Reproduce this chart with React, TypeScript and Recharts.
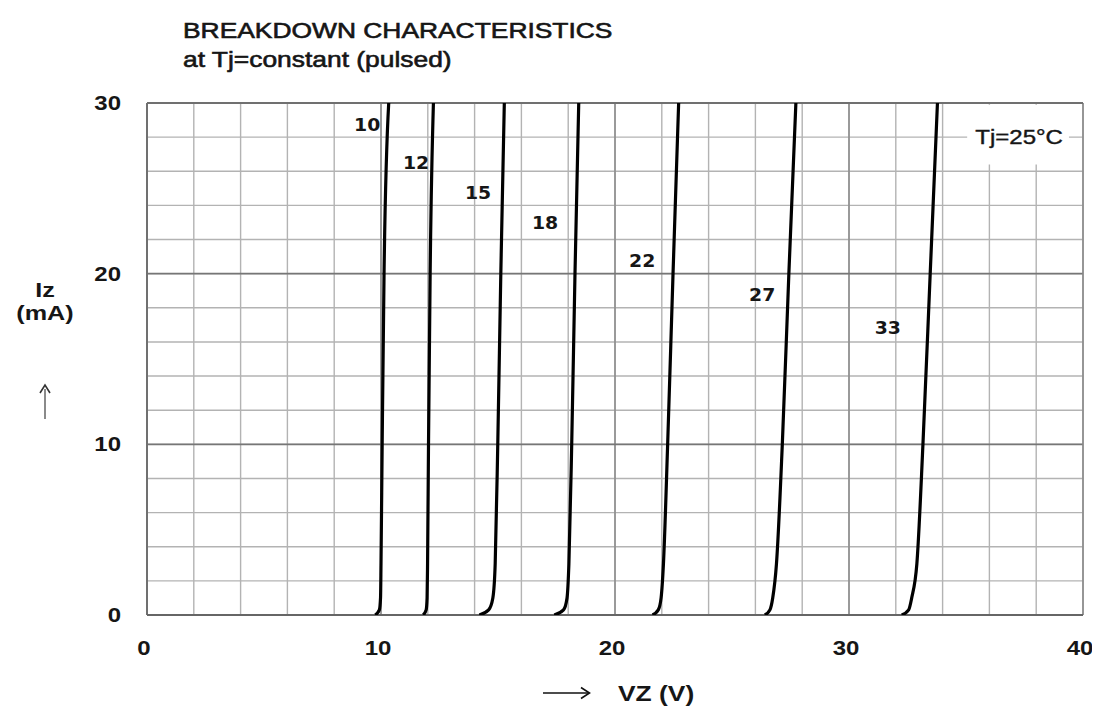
import React from 'react';
import {
  LineChart,
  Line,
  XAxis,
  YAxis,
  CartesianGrid,
  ReferenceLine,
  ReferenceArea,
  ReferenceDot,
} from 'recharts';

// ---- data ----
const currentSteps = [0, 0.3, 1, 3, 10, 20, 30]; // Iz (mA)
const vz10 = [9.75, 9.93, 9.98, 10.0, 10.05, 10.13, 10.33];
const vz12 = [11.8, 11.93, 11.97, 11.99, 12.03, 12.1, 12.24];
const vz15 = [14.2, 14.6, 14.78, 14.88, 14.99, 15.12, 15.27];
const vz18 = [17.4, 17.8, 17.95, 18.03, 18.15, 18.29, 18.45];
const vz22 = [21.6, 21.85, 21.97, 22.07, 22.25, 22.48, 22.72];
const vz27 = [26.4, 26.62, 26.74, 26.9, 27.15, 27.43, 27.73];
const vz33 = [32.25, 32.55, 32.68, 32.9, 33.16, 33.47, 33.78];

const curveNames = ['10', '12', '15', '18', '22', '27', '33'];
const curveVoltages = [vz10, vz12, vz15, vz18, vz22, vz27, vz33];
const labelV = [9.41, 11.5, 14.15, 17.01, 21.16, 26.29, 31.66];
const labelI = [28.76, 26.54, 24.78, 23.02, 20.8, 18.8, 16.9];

const xGridTicks = [0, 2, 4, 6, 8, 10, 12, 14, 16, 18, 20, 22, 24, 26, 28, 30, 32, 34, 36, 38, 40];
const yGridTicks = [0, 2, 4, 6, 8, 10, 12, 14, 16, 18, 20, 22, 24, 26, 28, 30];
const xLabelTicks = [0, 10, 20, 30, 40];
const yLabelTicks = [0, 10, 20, 30];
const xMajor = [10, 20, 30];
const yMajor = [10, 20];

const titleLine1 = 'BREAKDOWN CHARACTERISTICS';
const titleLine2 = 'at Tj=constant (pulsed)';
const tempNote = 'Tj=25°C';
const tempNoteV = 37.27;
const tempNoteI = 28.0;
const noteBoxV = [35.05, 39.4];
const noteBoxI = [26.4, 29.9];

const ARIAL = "'Liberation Sans', Arial, Helvetica, sans-serif";
const DEJAVU = "'DejaVu Sans', Verdana, sans-serif";
const INK = '#161616';

const SText = ({ x, y, anchor = 'start', size, weight = 400, family = ARIAL, sx = 1.2, fill = INK, thick = 0, children }: any) => (
  <g transform={`translate(${x},${y}) scale(${sx},1)`}>
    <text
      x={0}
      y={0}
      textAnchor={anchor}
      fontSize={size}
      fontWeight={weight}
      fontFamily={family}
      fill={fill}
      stroke={thick ? fill : 'none'}
      strokeWidth={thick}
    >
      {children}
    </text>
  </g>
);

const XTick = (props: any) => {
  const { x, y, payload } = props;
  if (!xLabelTicks.includes(payload.value)) return <g />;
  return (
    <SText x={x - 3} y={y + 40} anchor="middle" size={20} weight={700}>
      {payload.value}
    </SText>
  );
};

const YTick = (props: any) => {
  const { x, y, payload } = props;
  if (!yLabelTicks.includes(payload.value)) return <g />;
  return (
    <SText x={x - 26} y={y + 7} anchor="end" size={20} weight={700}>
      {payload.value}
    </SText>
  );
};

const curves = curveVoltages.map((vs) => currentSteps.map((i, k) => ({ v: vs[k], i })));

export default function App() {
  return (
    <div style={{ position: 'relative', width: 1084, height: 704 }}>
      <LineChart
        width={1084}
        height={704}
        margin={{ top: 95, right: 9, bottom: 67, left: 79 }}
        style={{ background: '#fff' }}
      >
        <CartesianGrid stroke="#b3b3b3" strokeWidth={1.4} />
        <XAxis
          type="number"
          dataKey="v"
          domain={[0, 40]}
          ticks={xGridTicks}
          interval={0}
          allowDataOverflow
          axisLine={false}
          tickLine={false}
          tickSize={0}
          tickMargin={0}
          height={30}
          tick={<XTick />}
        />
        <YAxis
          type="number"
          dataKey="i"
          domain={[0, 30]}
          ticks={yGridTicks}
          interval={0}
          allowDataOverflow
          axisLine={false}
          tickLine={false}
          tickSize={0}
          tickMargin={0}
          width={60}
          tick={<YTick />}
        />
        <ReferenceArea
          x1={noteBoxV[0]}
          x2={noteBoxV[1]}
          y1={noteBoxI[0]}
          y2={noteBoxI[1]}
          fill="#ffffff"
          fillOpacity={1}
          stroke="none"
        />
        {xMajor.map((v) => (
          <ReferenceLine key={'xm' + v} x={v} stroke="#8a8a8a" strokeWidth={1.5} />
        ))}
        {yMajor.map((v) => (
          <ReferenceLine key={'ym' + v} y={v} stroke="#767676" strokeWidth={1.8} />
        ))}
        <ReferenceLine x={0} stroke="#707070" strokeWidth={2} />
        <ReferenceLine x={40} stroke="#8a8a8a" strokeWidth={1.6} />
        <ReferenceLine y={0} stroke="#666666" strokeWidth={2.2} />
        <ReferenceLine y={30} stroke="#707070" strokeWidth={2} />
        {curves.map((d, idx) => (
          <Line
            key={curveNames[idx]}
            data={d}
            dataKey="i"
            type="monotone"
            stroke="#000"
            strokeWidth={3.2}
            dot={false}
            activeDot={false}
            isAnimationActive={false}
          />
        ))}
        {curveNames.map((name, idx) => (
          <ReferenceDot
            key={'lbl' + name}
            x={labelV[idx]}
            y={labelI[idx]}
            r={2}
            shape={(p: any) => (
              <SText x={p.cx} y={p.cy + 7} anchor="middle" size={18.5} weight={700} family={DEJAVU} sx={1.02}>
                {name}
              </SText>
            )}
          />
        ))}
        <ReferenceDot
          x={tempNoteV}
          y={tempNoteI}
          r={2}
          shape={(p: any) => (
            <SText x={p.cx} y={p.cy + 7} anchor="middle" size={20} weight={400} thick={0.4}>
              {tempNote}
            </SText>
          )}
        />
      </LineChart>
      <svg
        width={1084}
        height={704}
        style={{ position: 'absolute', left: 0, top: 0, pointerEvents: 'none' }}
      >
        <SText x={175} y={30} size={22} weight={400} thick={0.6}>
          {titleLine1}
        </SText>
        <SText x={175} y={59} size={22} weight={400} thick={0.6}>
          {titleLine2}
        </SText>
        <SText x={37} y={289} anchor="middle" size={21} weight={700}>
          Iz
        </SText>
        <SText x={37} y={312} anchor="middle" size={21} weight={700}>
          (mA)
        </SText>
        <line x1={37} y1={411} x2={37} y2={381} stroke="#8a8a8a" strokeWidth={2} />
        <path d="M32,385 L37,377 L42,385" fill="none" stroke="#333" strokeWidth={1.6} />
        <line x1={535} y1={685} x2={580} y2={685} stroke="#111" strokeWidth={1.6} />
        <path d="M573,679.5 L581.5,685 L573,690.5" fill="none" stroke="#111" strokeWidth={1.6} />
        <SText x={610} y={693} size={22} weight={700}>
          VZ (V)
        </SText>
      </svg>
    </div>
  );
}
